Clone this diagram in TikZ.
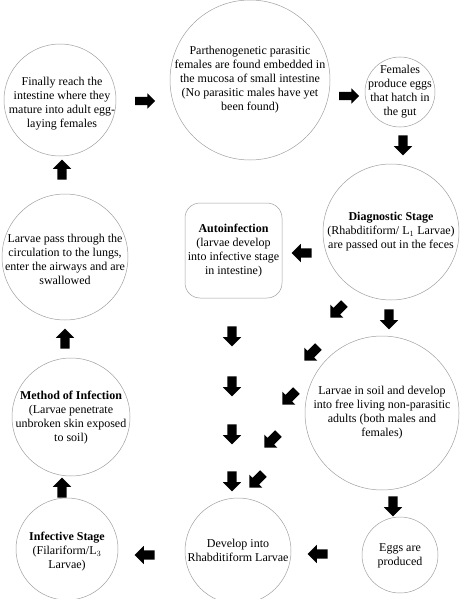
\documentclass[tikz,border=0pt]{standalone}
\usepackage{fontspec}
\setmainfont{Liberation Serif}
\usetikzlibrary{shapes.arrows}
\tikzset{
  circ/.style={circle, draw=gray!75, line width=0.5pt, inner sep=0pt},
  txt/.style={align=center, inner sep=0pt, font=\fontsize{12}{14}\selectfont},
  blk/.style={single arrow, fill=black, draw=none, inner xsep=2pt, inner ysep=4.5pt,
    minimum height=20pt, minimum width=18pt,
    single arrow head extend=4.5pt, single arrow head indent=0pt},
}
\begin{document}
\begin{tikzpicture}[x=1pt,y=-1pt]
\useasboundingbox (0,0) rectangle (459,599);
% circles
\node[circ, minimum size=112] (c1) at (60,100) {};
\node[txt] (t1) at (62,104) {Finally reach the\\intestine where they\\mature into adult egg-\\laying females};
\node[circ, minimum size=160] (c2) at (250,80) {};
\node[txt] (t2) at (c2) {Parthenogenetic parasitic\\females are found embedded in\\the mucosa of small intestine\\(No parasitic males have yet\\been found)};
\node[circ, minimum size=70] (c3) at (400,92) {};
\node[txt] (t3) at (c3) {Females\\produce eggs\\that hatch in\\the gut};
\node[circ, minimum size=136] (c4) at (391,232) {};
\node[txt] (t4) at (c4) {\textbf{Diagnostic Stage}\\(Rhabditiform/ L$_1$ Larvae)\\are passed out in the feces};
\node[draw=gray!75, line width=0.5pt, rounded corners=15pt, minimum width=97pt, minimum height=95pt, inner sep=0pt] (c5) at (233.5,250.5) {};
\node[txt] (t5) at (c5) {\textbf{Autoinfection}\\(larvae develop\\into infective stage\\in intestine)};
\node[circ, minimum size=126] (c6) at (65,257) {};
\node[txt] (t6) at (65,259) {Larvae pass through the\\circulation to the lungs,\\enter the airways and are\\swallowed};
\node[circ, minimum size=118] (c7) at (71,417) {};
\node[txt] (t7) at (71,418) {\textbf{Method of Infection}\\(Larvae penetrate\\unbroken skin exposed\\to soil)};
\node[circ, minimum size=102] (c8) at (67,549) {};
\node[txt] (t8) at (67,552) {\textbf{Infective Stage}\\(Filariform/L$_3$\\Larvae)};
\node[circ, minimum size=106] (c9) at (238,551) {};
\node[txt] (t9) at (238,550) {Develop into\\Rhabditiform Larvae};
\node[circ, minimum size=154] (c10) at (382,413) {};
\node[txt] (t10) at (c10) {Larvae in soil and develop\\into free living non-parasitic\\adults (both males and\\females)};
\node[circ, minimum size=76] (c11) at (400,555) {};
\node[txt] (t11) at (400,556) {Eggs are\\produced};
% arrows
\node[blk, minimum width=15pt, inner ysep=4pt, single arrow head extend=3.5pt] (a1) at (143,101) {};
\node[blk, minimum width=15pt, inner ysep=4pt, single arrow head extend=3.5pt] (a2) at (347,96) {};
\node[blk, rotate=-90] (a3) at (403,143) {};
\node[blk, rotate=180] (a4) at (304,253) {};
\node[blk, rotate=90] (a5) at (62,172) {};
\node[blk, rotate=90] (a6) at (65,341) {};
\node[blk, rotate=90] (a7) at (62,490) {};
\node[blk, rotate=180] (a8) at (147,555) {};
\node[blk, rotate=180] (a9) at (320,554) {};
\node[blk, rotate=-90] (a10) at (393,504) {};
\node[blk, rotate=-90] (a11) at (389,317) {};
\node[blk, rotate=-135] (g1) at (339,309) {};
\node[blk, rotate=-135] (g2) at (313,352) {};
\node[blk, rotate=-135] (g3) at (291,396) {};
\node[blk, rotate=-135] (g4) at (273,439) {};
\node[blk, rotate=-135] (g5) at (258,479) {};
\node[blk, rotate=-90] (v1) at (232,334) {};
\node[blk, rotate=-90] (v2) at (232,384) {};
\node[blk, rotate=-90] (v3) at (232,432) {};
\node[blk, rotate=-90] (v4) at (232,479) {};
\end{tikzpicture}
\end{document}
